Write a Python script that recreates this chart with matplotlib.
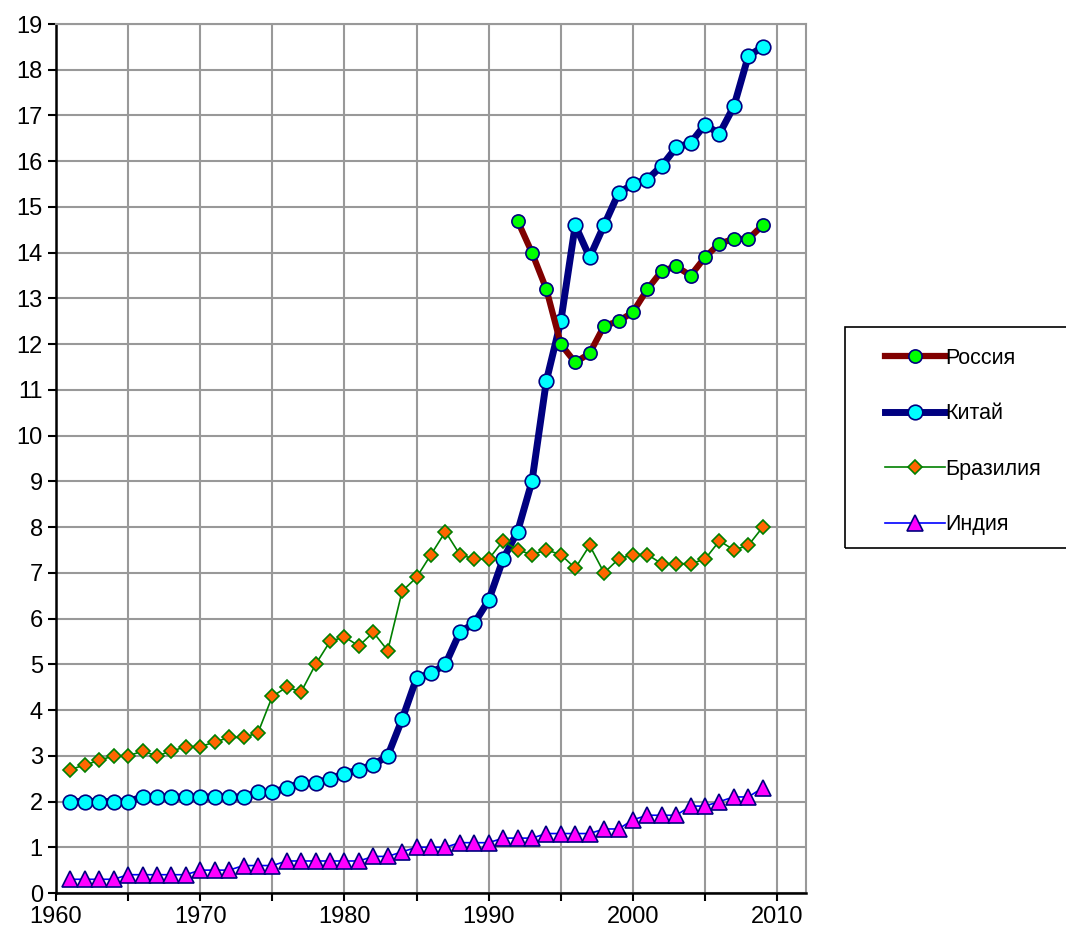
import matplotlib.pyplot as plt
from matplotlib.patches import Rectangle
from matplotlib.ticker import MultipleLocator, FuncFormatter

plt.rcParams['font.family'] = ['Liberation Sans', 'DejaVu Sans']

years = list(range(1961, 2010))
russia_years = list(range(1992, 2010))

russia = [14.7, 14.0, 13.2, 12.0, 11.6, 11.8, 12.4, 12.5, 12.7, 13.2, 13.6, 13.7, 13.5, 13.9,
          14.2, 14.3, 14.3, 14.6]

china = [2.0, 2.0, 2.0, 2.0, 2.0, 2.1, 2.1, 2.1, 2.1, 2.1, 2.1, 2.1, 2.1, 2.2, 2.2, 2.3, 2.4, 2.4,
         2.5, 2.6, 2.7, 2.8, 3.0, 3.8, 4.7, 4.8, 5.0, 5.7, 5.9, 6.4, 7.3, 7.9, 9.0, 11.2, 12.5,
         14.6, 13.9, 14.6, 15.3, 15.5, 15.6, 15.9, 16.3, 16.4, 16.8, 16.6, 17.2, 18.3, 18.5]

brazil = [2.7, 2.8, 2.9, 3.0, 3.0, 3.1, 3.0, 3.1, 3.2, 3.2, 3.3, 3.4, 3.4, 3.5, 4.3, 4.5, 4.4, 5.0,
          5.5, 5.6, 5.4, 5.7, 5.3, 6.6, 6.9, 7.4, 7.9, 7.4, 7.3, 7.3, 7.7, 7.5, 7.4, 7.5, 7.4, 7.1,
          7.6, 7.0, 7.3, 7.4, 7.4, 7.2, 7.2, 7.2, 7.3, 7.7, 7.5, 7.6, 8.0]

india = [0.3, 0.3, 0.3, 0.3, 0.4, 0.4, 0.4, 0.4, 0.4, 0.5, 0.5, 0.5, 0.6, 0.6, 0.6, 0.7, 0.7, 0.7,
         0.7, 0.7, 0.7, 0.8, 0.8, 0.9, 1.0, 1.0, 1.0, 1.1, 1.1, 1.1, 1.2, 1.2, 1.2, 1.3, 1.3, 1.3,
         1.3, 1.4, 1.4, 1.6, 1.7, 1.7, 1.7, 1.9, 1.9, 2.0, 2.1, 2.1, 2.3]

fig = plt.figure(figsize=(10.66, 9.33), dpi=100)
ax = fig.add_axes([56 / 1066, 40 / 933, 750 / 1066, 869 / 933])

ax.plot(russia_years, russia, color='#800000', lw=4.5, marker='o', ms=9.5,
        mfc='#00ff00', mec='#000080', mew=1.2, label='Россия', zorder=4)
ax.plot(years, china, color='#000080', lw=5, marker='o', ms=10.5,
        mfc='#00ffff', mec='#000080', mew=1.2, label='Китай', zorder=3)
ax.plot(years, brazil, color='#008000', lw=1.2, marker='D', ms=7.5,
        mfc='#ff6600', mec='#008000', mew=1.2, label='Бразилия', zorder=5)
ax.plot(years, india, color='#0000ff', lw=1.2, marker='^', ms=11,
        mfc='#ff00ff', mec='#000080', mew=1.2, label='Индия', zorder=5)

ax.set_xlim(1960, 2012)
ax.set_ylim(0, 19)
ax.xaxis.set_major_locator(MultipleLocator(5))
ax.xaxis.set_major_formatter(FuncFormatter(lambda v, p: f'{int(v)}' if int(v) % 10 == 0 else ''))
ax.yaxis.set_major_locator(MultipleLocator(1))
ax.grid(True, color='#999999', lw=1.5)
ax.set_axisbelow(True)
ax.tick_params(axis='both', labelsize=17, length=6, width=1.5, direction='out')

for s in ['left', 'bottom']:
    ax.spines[s].set_color('black')
    ax.spines[s].set_linewidth(1.8)
for s in ['top', 'right']:
    ax.spines[s].set_color('#999999')
    ax.spines[s].set_linewidth(1.5)

# legend frame runs past the right edge of the figure, as in the original
fig.patches.append(Rectangle((845 / 1066, 1 - 548 / 933), 260 / 1066, 221 / 933,
                             transform=fig.transFigure, fill=False, ec='black', lw=1.2))
fig.legend(loc='upper left', bbox_to_anchor=(885 / 1066, 1 - 348 / 933), fontsize=15.5,
           frameon=False, borderpad=0, labelspacing=1.6, handlelength=2.8,
           handletextpad=0.0, borderaxespad=0)

fig.savefig('out.png', dpi=100)
